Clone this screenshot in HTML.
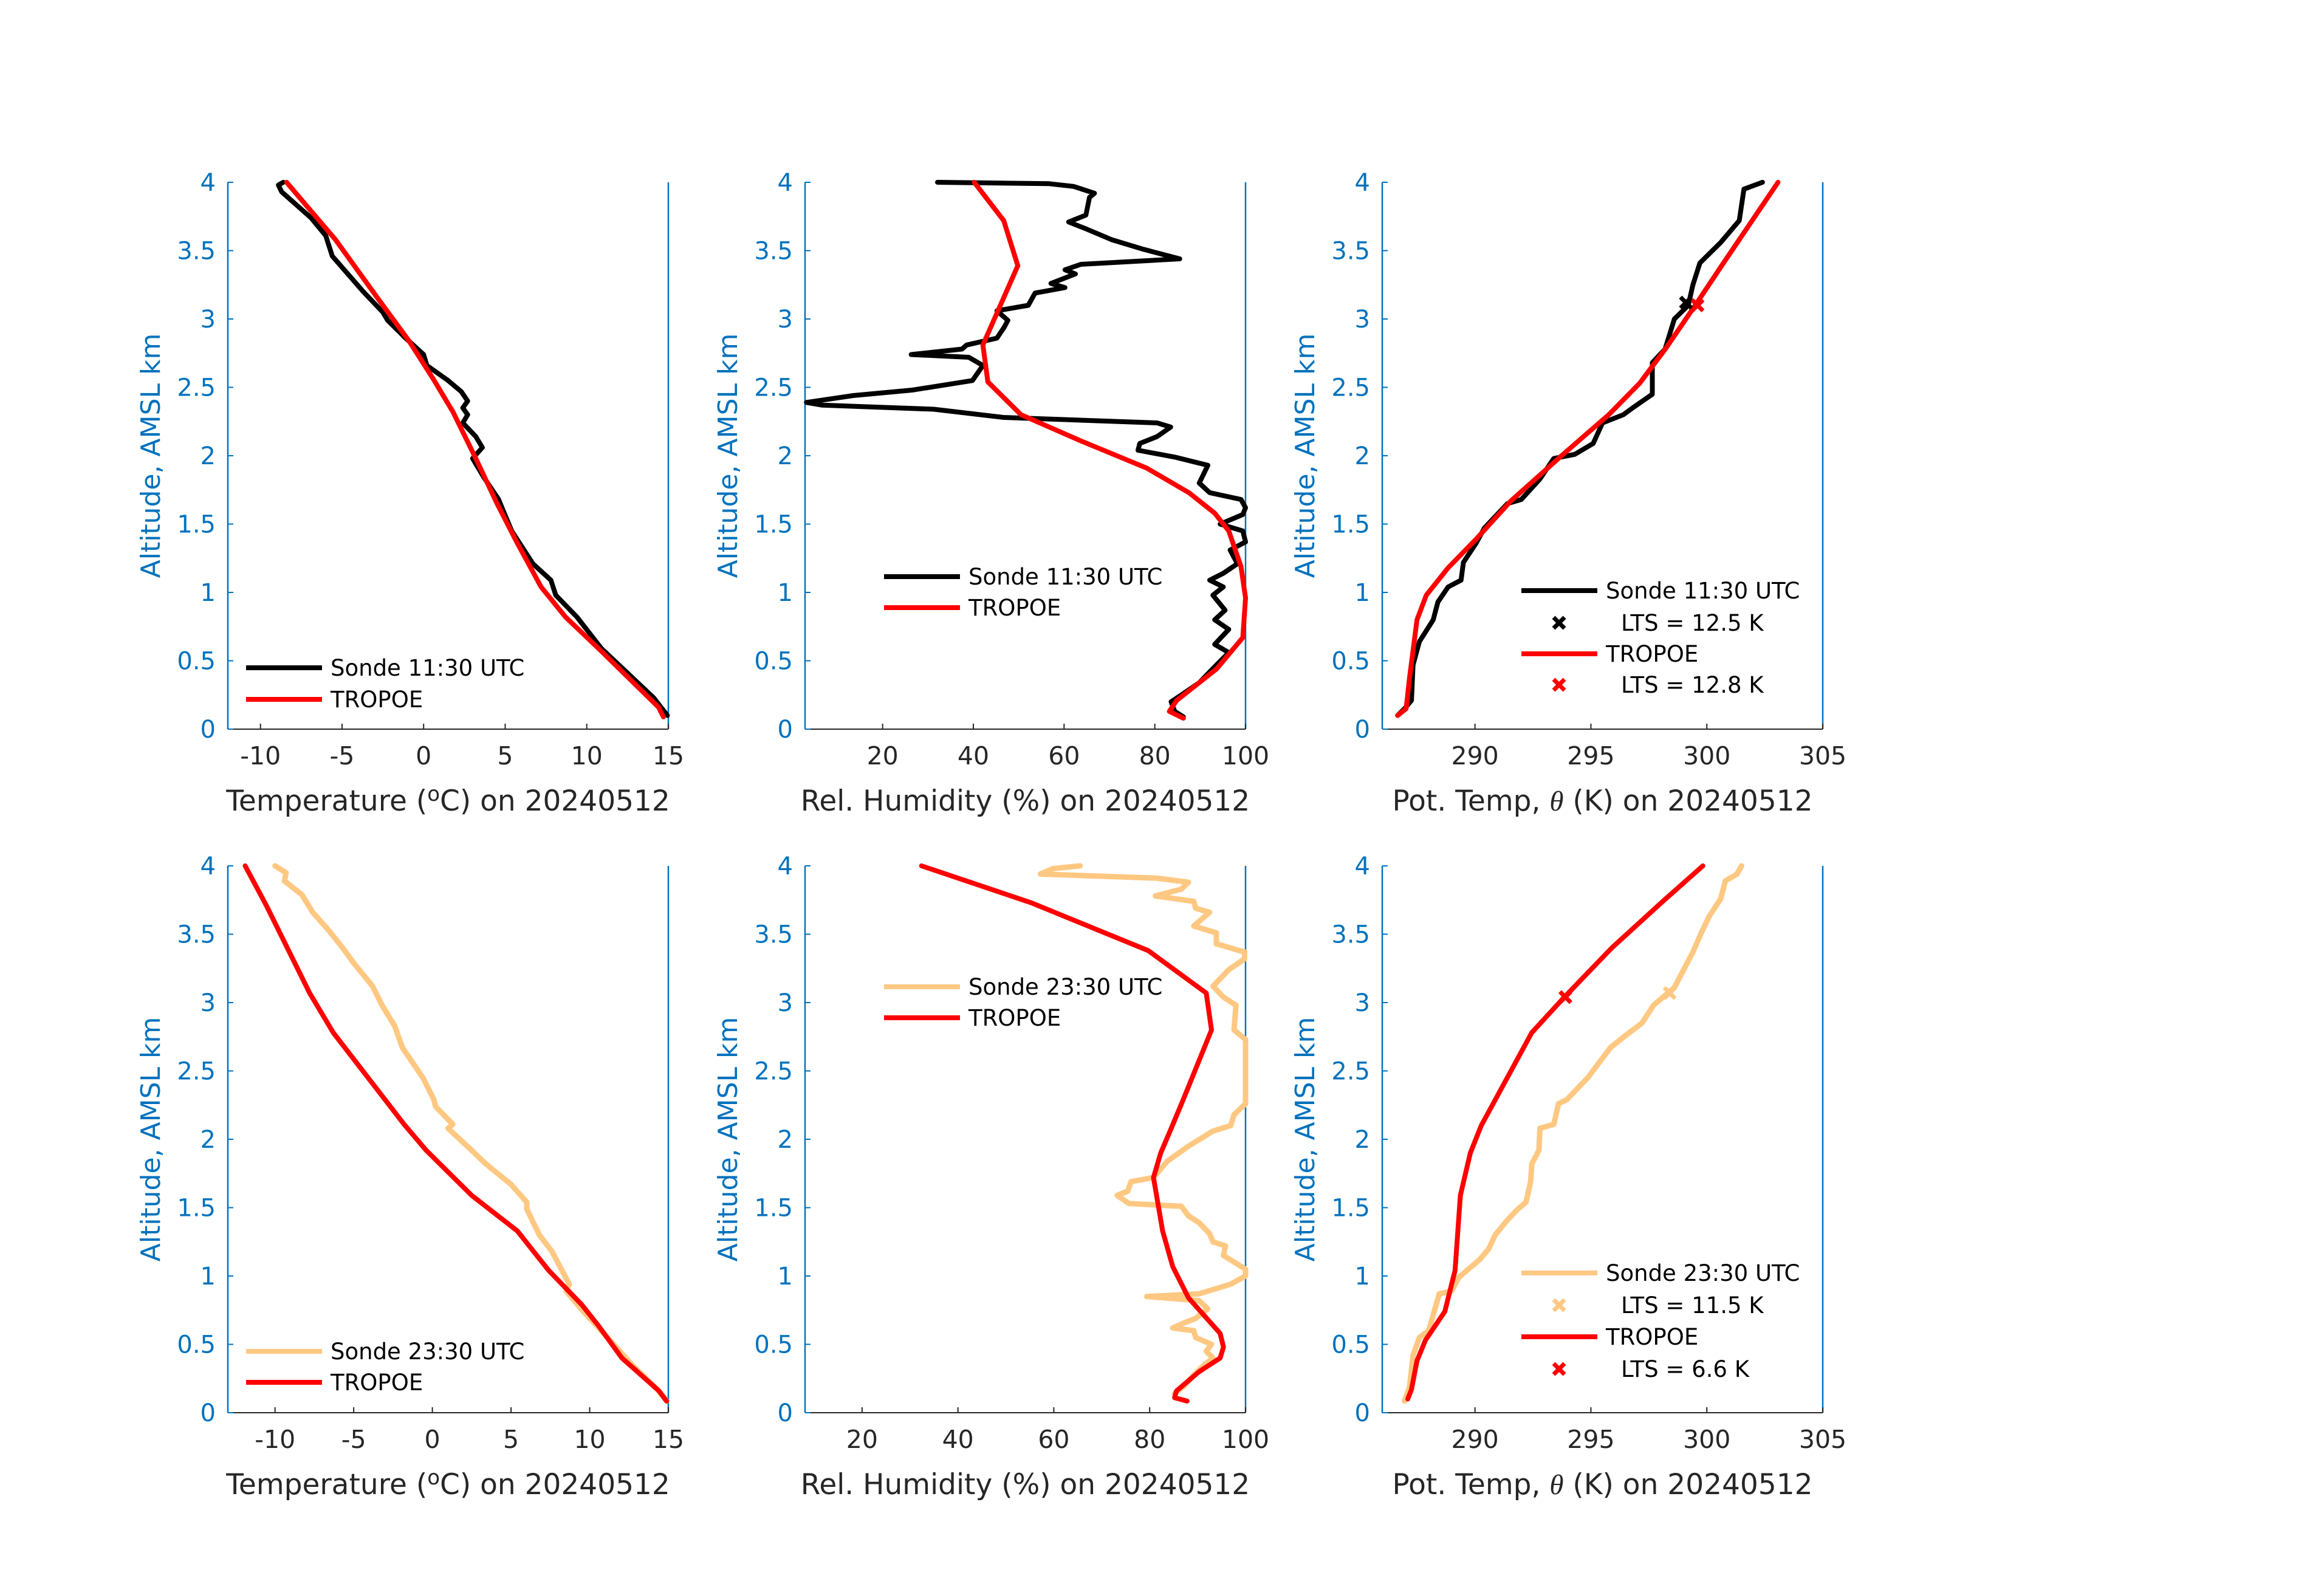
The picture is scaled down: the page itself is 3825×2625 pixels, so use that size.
<!DOCTYPE html>
<html><head><meta charset="utf-8"><style>
html,body{margin:0;padding:0;background:#fff;}
svg{display:block;font-family:"DejaVu Sans","Liberation Sans",sans-serif;}
</style></head><body>
<svg id="fig" width="3825" height="2625" viewBox="0 0 3825 2625" xmlns="http://www.w3.org/2000/svg">
<rect width="3825" height="2625" fill="#fff"/>
</svg>
<script>
// ---- Data (value arrays, altitude arrays in km) ----
const yTicks = [0,0.5,1,1.5,2,2.5,3,3.5,4];
const yTickLabels = ["0","0.5","1","1.5","2","2.5","3","3.5","4"];
const tTicks = [-10,-5,0,5,10,15];
const rhTicks = [20,40,60,80,100];
const thTicks = [290,295,300,305];

// Panel 1: temperature 11:30
const p1SondeT = [14.94,14.1,10.9,9.4,8.1,7.8,6.7,5.4,4.7,4.6,3.7,3.0,3.6,3.2,2.4,2.7,2.4,2.7,2.3,1.5,0.2,0.0,-1.1,-2.2,-2.5,-3.7,-5.6,-6.0,-6.9,-8.7,-8.9,-8.6];
const p1SondeZ = [0.10,0.23,0.59,0.82,0.98,1.09,1.21,1.45,1.65,1.68,1.84,1.98,2.06,2.14,2.24,2.30,2.35,2.40,2.47,2.55,2.66,2.74,2.86,2.99,3.05,3.20,3.46,3.61,3.74,3.93,3.98,4.0];
const p1TropT = [14.7,14.4,10.9,8.7,7.2,5.7,4.5,3.2,1.8,0.6,-0.9,-2.8,-5.4,-8.4];
const p1TropZ = [0.09,0.16,0.57,0.82,1.04,1.37,1.65,1.98,2.32,2.56,2.84,3.15,3.58,4.0];

// Panel 2: RH 11:30
const p2SondeRH = [86.3,84.4,83.6,86.3,89.8,93.6,96.3,93.2,96.3,93.2,95.5,92.8,95.1,92.1,95.1,98.2,96.6,100,99.4,94.4,99.4,100,99.0,92.1,89.8,91.7,84.4,76.3,76.7,80.5,83.5,80.5,46.7,31.3,6.7,3.2,13.5,26.5,39.8,42.1,39,26.3,37.5,38.5,45.2,46.8,47.6,45.2,52.1,53.6,60.2,57.1,62.5,60.2,63.7,85.5,77.5,70.5,64.8,61,64.8,65.6,66.7,62.1,56.7,32.1];
const p2SondeZ = [0.09,0.13,0.20,0.26,0.34,0.47,0.56,0.62,0.73,0.80,0.87,0.98,1.04,1.09,1.14,1.21,1.31,1.37,1.45,1.50,1.57,1.62,1.68,1.73,1.80,1.93,1.99,2.04,2.09,2.14,2.21,2.24,2.28,2.34,2.37,2.39,2.44,2.48,2.55,2.66,2.72,2.74,2.78,2.81,2.86,2.94,2.99,3.06,3.10,3.19,3.23,3.26,3.33,3.36,3.40,3.44,3.51,3.58,3.66,3.71,3.76,3.89,3.92,3.97,3.99,4.0];
const p2TropRH = [86.3,83.2,84.8,93.6,99.4,100,99,96.3,93.2,87.5,78.2,63.6,50.5,43.2,42.1,49.8,46.7,40.2];
const p2TropZ = [0.08,0.13,0.21,0.44,0.67,0.96,1.19,1.45,1.58,1.73,1.91,2.11,2.30,2.54,2.81,3.39,3.72,4.0];

// Panel 3: theta 11:30
const p3SondeTh = [286.66,286.96,287.26,287.33,287.6,288.2,288.4,288.84,289.4,289.5,290.05,290.4,291.4,292.0,292.8,293.4,294.3,295.1,295.5,296.4,296.8,297.65,297.65,298.2,298.6,299.2,299.4,299.7,300.6,301.4,301.6,302.4];
const p3SondeZ = [0.10,0.15,0.21,0.47,0.64,0.80,0.93,1.04,1.09,1.22,1.36,1.47,1.65,1.68,1.83,1.98,2.01,2.09,2.24,2.30,2.35,2.45,2.68,2.78,3.00,3.10,3.25,3.41,3.56,3.72,3.95,4.0];
const p3TropTh = [286.66,287.03,287.18,287.5,287.9,288.84,290.05,291.55,293.8,295.77,297.1,298.25,299.5,300.6,303.07];
const p3TropZ = [0.10,0.15,0.38,0.80,0.98,1.18,1.39,1.67,2.01,2.30,2.53,2.79,3.10,3.38,4.0];
const p3LtsTh = [299.1,299.6];
const p3LtsZ = [3.12,3.10];
const p3LtsLabels = ["LTS = 12.5 K","LTS = 12.8 K"];

// Panel 4: temperature 23:30
const p4SondeT = [14.89,14.3,12.7,10.9,9.6,8.5,8.7,7.6,6.8,6.0,6.0,5.0,3.4,2.4,1.0,1.3,0.2,0.1,-0.6,-1.9,-2.4,-3.2,-3.8,-5.0,-5.7,-6.6,-7.6,-8.3,-9.4,-9.3,-10.0];
const p4SondeZ = [0.085,0.17,0.35,0.58,0.74,0.89,0.94,1.18,1.30,1.49,1.54,1.67,1.82,1.93,2.08,2.11,2.24,2.29,2.45,2.67,2.83,2.98,3.12,3.29,3.40,3.53,3.66,3.79,3.89,3.95,4.0];
const p4TropT = [14.89,14.4,12.05,10.6,9.5,7.4,5.4,2.5,-0.4,-1.8,-6.3,-7.8,-10.55,-11.9];
const p4TropZ = [0.085,0.16,0.40,0.63,0.79,1.04,1.33,1.59,1.92,2.11,2.78,3.07,3.71,4.0];

// Panel 5: RH 23:30
const p5SondeRH = [85.2,87.0,89.6,91.4,93.2,91.8,92.9,89.6,89.2,84.8,87.4,89.6,92.1,90.3,79.4,90.3,96.9,100,100,95.4,95.8,93.2,92.5,90.3,88.1,86.6,75.7,73.2,75.4,76.1,80.8,83.7,88.1,93.2,96.9,97.6,100,100,97.6,98,95.4,93.2,96.5,99.8,99.8,93.9,93.9,89.2,92.5,89.6,89.2,81.2,86.6,88.1,81.6,57.2,59.8,65.5];
const p5SondeZ = [0.14,0.19,0.29,0.35,0.40,0.45,0.50,0.55,0.60,0.62,0.66,0.69,0.76,0.82,0.85,0.87,0.94,1.00,1.05,1.15,1.22,1.25,1.31,1.39,1.44,1.51,1.53,1.59,1.62,1.69,1.72,1.84,1.95,2.06,2.10,2.18,2.26,2.73,2.80,2.98,3.04,3.12,3.24,3.32,3.37,3.43,3.51,3.56,3.66,3.69,3.74,3.78,3.83,3.88,3.91,3.94,3.98,4.0];
const p5TropRH = [87.8,85.2,85.6,90.3,94.7,95.4,94.7,91.4,88.1,84.8,82.7,80.8,82.3,84.5,87.0,92.9,91.8,79.7,55.3,32.4];
const p5TropZ = [0.085,0.11,0.16,0.30,0.40,0.48,0.58,0.71,0.84,1.07,1.33,1.72,1.90,2.08,2.29,2.80,3.07,3.38,3.73,4.0];

// Panel 6: theta 23:30
const p6SondeTh = [286.96,287.18,287.33,287.6,288.0,288.24,288.46,288.99,289.3,290.2,290.6,290.87,291.4,291.85,292.2,292.4,292.45,292.76,292.8,293.4,293.6,293.96,294.86,295.84,296.5,297.2,297.7,298.6,299.0,299.4,299.76,300.1,300.6,300.8,301.3,301.5];
const p6SondeZ = [0.085,0.19,0.42,0.55,0.60,0.74,0.87,0.89,0.99,1.12,1.20,1.30,1.41,1.49,1.54,1.69,1.82,1.92,2.08,2.11,2.26,2.29,2.45,2.67,2.76,2.85,2.98,3.11,3.24,3.37,3.51,3.63,3.76,3.89,3.94,4.0];
const p6TropTh = [287.1,287.26,287.5,287.86,288.7,289.14,289.37,289.8,290.27,292.45,293.8,295.9,298.1,299.83];
const p6TropZ = [0.10,0.17,0.38,0.53,0.74,1.04,1.59,1.90,2.10,2.78,3.03,3.40,3.74,4.0];
const p6LtsTh = [298.4,293.9];
const p6LtsZ = [3.07,3.04];
const p6LtsLabels = ["LTS = 11.5 K","LTS = 6.6 K"];

// ---- Rendering ----
const NS = "http://www.w3.org/2000/svg";
const fig = document.getElementById('fig');
const BLUE = "#0072BD", DARK = "#262626", ORANGE = "#FFC882", RED = "#FF0000";
function mk(tag, attrs, parent){ const e=document.createElementNS(NS,tag); for(const k in attrs) e.setAttribute(k,attrs[k]); (parent||fig).appendChild(e); return e; }

function panel(id, left, top, xmin, xmax, xticks, xlabelParts){
  const W=725,H=900;
  const g = mk('g',{});
  
  
  const sx = v => left + (v-xmin)/(xmax-xmin)*W;
  const sy = v => top + H - v/4*H;
  const xa = mk('line',{x1:left,y1:top+H,x2:left+W,y2:top+H,stroke:DARK,'stroke-width':2},g);
   
  const ya = mk('line',{x1:left,y1:top,x2:left,y2:top+H,stroke:BLUE,'stroke-width':2.5},g);
   
  const ra = mk('line',{x1:left+W,y1:top,x2:left+W,y2:top+H,stroke:BLUE,'stroke-width':2.5},g);
   
  xticks.forEach(v=>{
    const x=sx(v);
    mk('line',{x1:x,y1:top+H,x2:x,y2:top+H-9,stroke:DARK,'stroke-width':2},g);
    const t=mk('text',{x:x,y:top+H+58,'text-anchor':'middle','font-size':41,fill:DARK},g);
    t.textContent=String(v);
     
  });
  yTicks.forEach((v,i)=>{
    const y=sy(v);
    mk('line',{x1:left,y1:y,x2:left+9,y2:y,stroke:BLUE,'stroke-width':2},g);
    const t=mk('text',{x:left-20,y:y+14,'text-anchor':'end','font-size':40,fill:BLUE},g);
    t.textContent=yTickLabels[i];
     
  });
  const yl=mk('text',{x:0,y:0,'text-anchor':'middle','font-size':44,fill:BLUE,transform:`translate(${left-112},${top+H/2}) rotate(-90)`},g);
  yl.textContent="Altitude, AMSL km";
   
  const xl=mk('text',{x:left+W/2,y:top+H+134,'text-anchor':'middle','font-size':47,fill:DARK},g);
   
  xlabelParts(xl);
  return {g,sx,sy};
}
function series(p, xs, zs, color, w, name){
  const d = xs.map((v,i)=>(i?'L':'M')+p.sx(v).toFixed(1)+','+p.sy(zs[i]).toFixed(1)).join(' ');
  const e=mk('path',{d:d,fill:'none',stroke:color,'stroke-width':w,'stroke-linejoin':'round','stroke-linecap':'round'},p.g);
  
  
}
function xmark(parent, cx, cy, color, name){
  const s=9;
  const e=mk('path',{d:`M${cx-s},${cy-s}L${cx+s},${cy+s}M${cx-s},${cy+s}L${cx+s},${cy-s}`,stroke:color,'stroke-width':7,fill:'none'},parent);
  
  
}
function legendLine(parent, x, y, color, label, name){
  const g=mk('g',{},parent);
  
  
  mk('line',{x1:x,y1:y,x2:x+125,y2:y,stroke:color,'stroke-width':8},g);
  const t=mk('text',{x:x+139,y:y+13,'font-size':37,fill:'#000'},g);
  t.textContent=label;
}
function legendMark(parent, x, y, color, label, name){
  const g=mk('g',{},parent);
  
  
  xmark(g, x+62, y, color, 'legend-marker');
  const t=mk('text',{x:x+164,y:y+13,'font-size':37,fill:'#000'},g);
  t.textContent=label;
}
const tempLabel = el => { el.appendChild(document.createTextNode("Temperature (")); const s=document.createElementNS(NS,'tspan'); s.setAttribute('dy','-16'); s.setAttribute('font-size','34'); s.textContent="o"; el.appendChild(s); const s2=document.createElementNS(NS,'tspan'); s2.setAttribute('dy','16'); s2.textContent="C) on 20240512"; el.appendChild(s2); };
const rhLabel = el => { el.textContent="Rel. Humidity (%) on 20240512"; };
const thLabel = el => { el.appendChild(document.createTextNode("Pot. Temp, ")); const s=document.createElementNS(NS,'tspan'); s.setAttribute('font-style','italic'); s.setAttribute('font-family','"Liberation Serif",serif'); s.textContent="θ"; el.appendChild(s); el.appendChild(document.createTextNode(" (K) on 20240512")); };

const L=[375,1325,2275], T=[300,1425];
let p=panel('temp-panel-1130',L[0],T[0],-12,15,tTicks,tempLabel);
series(p,p1SondeT,p1SondeZ,'#000',8,'sonde-temp-line');
series(p,p1TropT,p1TropZ,RED,8,'tropoe-temp-line');
legendLine(p.g,405,1099,'#000','Sonde 11:30 UTC','legend-entry-sonde');
legendLine(p.g,405,1151,RED,'TROPOE','legend-entry-tropoe');

p=panel('rh-panel-1130',L[1],T[0],2.9,100,rhTicks,rhLabel);
series(p,p2SondeRH,p2SondeZ,'#000',8,'sonde-rh-line');
series(p,p2TropRH,p2TropZ,RED,8,'tropoe-rh-line');
legendLine(p.g,1455,949,'#000','Sonde 11:30 UTC','legend-entry-sonde');
legendLine(p.g,1455,1000,RED,'TROPOE','legend-entry-tropoe');

p=panel('theta-panel-1130',L[2],T[0],286,305,thTicks,thLabel);
series(p,p3SondeTh,p3SondeZ,'#000',8,'sonde-theta-line');
series(p,p3TropTh,p3TropZ,RED,8,'tropoe-theta-line');
xmark(p.g,p.sx(p3LtsTh[0]),p.sy(p3LtsZ[0]),'#000','lts-marker-sonde');
xmark(p.g,p.sx(p3LtsTh[1]),p.sy(p3LtsZ[1]),RED,'lts-marker-tropoe');
legendLine(p.g,2504,972,'#000','Sonde 11:30 UTC','legend-entry-sonde');
legendMark(p.g,2504,1025,'#000',p3LtsLabels[0],'legend-entry-lts-sonde');
legendLine(p.g,2504,1076,RED,'TROPOE','legend-entry-tropoe');
legendMark(p.g,2504,1127,RED,p3LtsLabels[1],'legend-entry-lts-tropoe');

p=panel('temp-panel-2330',L[0],T[1],-13,15,tTicks,tempLabel);
series(p,p4SondeT,p4SondeZ,ORANGE,9,'sonde-temp-line');
series(p,p4TropT,p4TropZ,RED,8,'tropoe-temp-line');
legendLine(p.g,405,2224,ORANGE,'Sonde 23:30 UTC','legend-entry-sonde');
legendLine(p.g,405,2275,RED,'TROPOE','legend-entry-tropoe');

p=panel('rh-panel-2330',L[1],T[1],8.1,100,rhTicks,rhLabel);
series(p,p5SondeRH,p5SondeZ,ORANGE,9,'sonde-rh-line');
series(p,p5TropRH,p5TropZ,RED,8,'tropoe-rh-line');
legendLine(p.g,1455,1624,ORANGE,'Sonde 23:30 UTC','legend-entry-sonde');
legendLine(p.g,1455,1675,RED,'TROPOE','legend-entry-tropoe');

p=panel('theta-panel-2330',L[2],T[1],286,305,thTicks,thLabel);
series(p,p6SondeTh,p6SondeZ,ORANGE,9,'sonde-theta-line');
series(p,p6TropTh,p6TropZ,RED,8,'tropoe-theta-line');
xmark(p.g,p.sx(p6LtsTh[0]),p.sy(p6LtsZ[0]),ORANGE,'lts-marker-sonde');
xmark(p.g,p.sx(p6LtsTh[1]),p.sy(p6LtsZ[1]),RED,'lts-marker-tropoe');
legendLine(p.g,2504,2095,ORANGE,'Sonde 23:30 UTC','legend-entry-sonde');
legendMark(p.g,2504,2148,ORANGE,p6LtsLabels[0],'legend-entry-lts-sonde');
legendLine(p.g,2504,2200,RED,'TROPOE','legend-entry-tropoe');
legendMark(p.g,2504,2253,RED,p6LtsLabels[1],'legend-entry-lts-tropoe');
</script>
</body></html>
